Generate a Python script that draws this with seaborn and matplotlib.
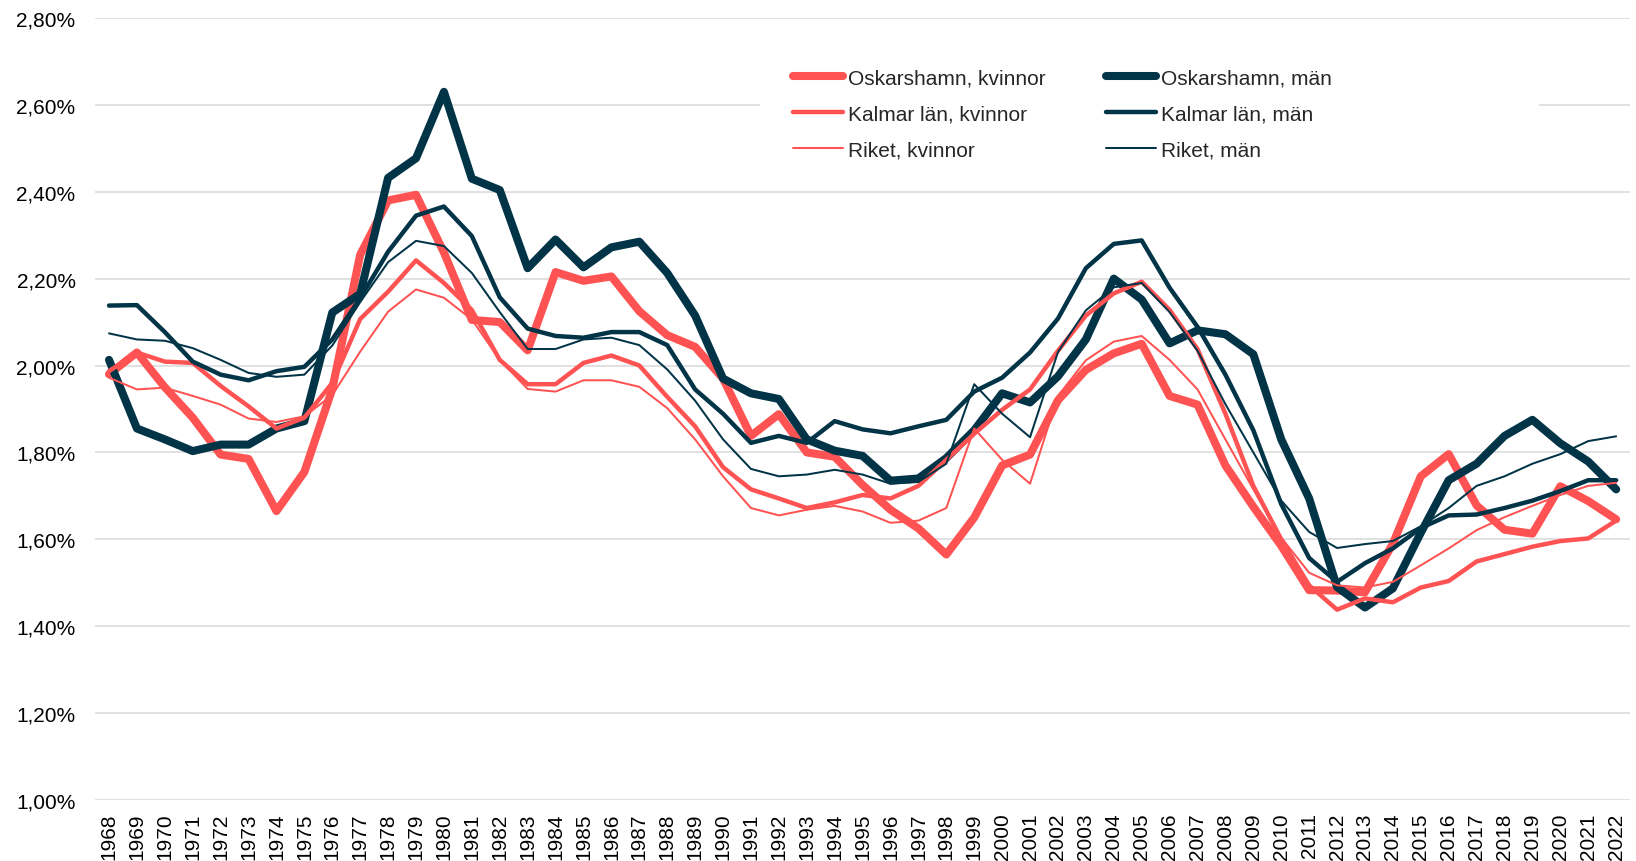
import matplotlib
matplotlib.use('Agg')
import matplotlib.pyplot as plt
from matplotlib.patches import Rectangle
from matplotlib.ticker import FuncFormatter, MultipleLocator
import seaborn as sns

years = list(range(1968, 2023))

osk_kvinnor = [1.980, 2.030, 1.950, 1.880, 1.795, 1.785, 1.665, 1.755, 1.946, 2.255,
               2.380, 2.393, 2.260, 2.105, 2.100, 2.035, 2.215, 2.195, 2.205, 2.125,
               2.070, 2.043, 1.970, 1.838, 1.888, 1.800, 1.790, 1.725, 1.668, 1.625,
               1.565, 1.650, 1.770, 1.795, 1.920, 1.990, 2.028, 2.050, 1.930, 1.910,
               1.770, 1.675, 1.585, 1.483, 1.482, 1.478, 1.590, 1.745, 1.796, 1.678,
               1.622, 1.613, 1.722, 1.688, 1.646]

osk_man = [2.013, 1.855, 1.830, 1.803, 1.818, 1.818, 1.855, 1.872, 2.122, 2.165,
           2.432, 2.477, 2.630, 2.430, 2.404, 2.224, 2.290, 2.226, 2.272, 2.285,
           2.213, 2.115, 1.970, 1.936, 1.923, 1.830, 1.804, 1.792, 1.735, 1.740,
           1.787, 1.851, 1.936, 1.915, 1.975, 2.060, 2.200, 2.152, 2.051, 2.081,
           2.072, 2.026, 1.830, 1.694, 1.490, 1.443, 1.487, 1.615, 1.736, 1.774,
           1.838, 1.875, 1.821, 1.779, 1.715]

kalmar_kvinnor = [1.987, 2.030, 2.009, 2.006, 1.953, 1.906, 1.855, 1.880, 1.960, 2.107,
                  2.170, 2.242, 2.190, 2.128, 2.013, 1.957, 1.957, 2.006, 2.023, 2.000,
                  1.928, 1.860, 1.766, 1.715, 1.694, 1.672, 1.685, 1.702, 1.694, 1.723,
                  1.783, 1.843, 1.898, 1.945, 2.034, 2.115, 2.166, 2.193, 2.128, 2.038,
                  1.889, 1.723, 1.600, 1.494, 1.438, 1.464, 1.455, 1.489, 1.504, 1.549,
                  1.566, 1.583, 1.596, 1.602, 1.643]

kalmar_man = [2.138, 2.139, 2.077, 2.009, 1.979, 1.966, 1.987, 1.997, 2.060, 2.155,
              2.262, 2.345, 2.366, 2.298, 2.157, 2.085, 2.068, 2.064, 2.077, 2.077,
              2.047, 1.945, 1.889, 1.822, 1.838, 1.822, 1.872, 1.853, 1.844, 1.860,
              1.875, 1.940, 1.972, 2.030, 2.108, 2.224, 2.280, 2.288, 2.179, 2.089,
              1.979, 1.851, 1.681, 1.557, 1.502, 1.545, 1.579, 1.626, 1.655, 1.657,
              1.672, 1.689, 1.711, 1.736, 1.736]

riket_kvinnor = [1.972, 1.945, 1.949, 1.930, 1.910, 1.878, 1.870, 1.883, 1.932, 2.032,
                 2.124, 2.175, 2.156, 2.106, 2.013, 1.946, 1.940, 1.966, 1.966, 1.951,
                 1.902, 1.830, 1.745, 1.672, 1.655, 1.668, 1.677, 1.664, 1.638, 1.643,
                 1.672, 1.855, 1.783, 1.728, 1.930, 2.012, 2.055, 2.068, 2.013, 1.945,
                 1.830, 1.715, 1.604, 1.523, 1.494, 1.489, 1.502, 1.540, 1.579, 1.621,
                 1.651, 1.677, 1.702, 1.723, 1.730]

riket_man = [2.074, 2.060, 2.057, 2.040, 2.013, 1.983, 1.974, 1.979, 2.046, 2.146,
             2.238, 2.287, 2.275, 2.213, 2.123, 2.038, 2.038, 2.060, 2.064, 2.047,
             1.991, 1.919, 1.830, 1.762, 1.745, 1.749, 1.760, 1.749, 1.728, 1.732,
             1.774, 1.957, 1.889, 1.835, 2.031, 2.127, 2.180, 2.190, 2.123, 2.034,
             1.911, 1.800, 1.689, 1.617, 1.580, 1.589, 1.596, 1.630, 1.672, 1.723,
             1.745, 1.774, 1.796, 1.826, 1.837]

RED = '#FF5353'
NAVY = '#023448'

# (etikett, värden, färg, linjebredd) - tjockast ritas först
series = [
    ('Oskarshamn, kvinnor', osk_kvinnor, RED, 5.8),
    ('Oskarshamn, män', osk_man, NAVY, 5.8),
    ('Kalmar län, kvinnor', kalmar_kvinnor, RED, 3.2),
    ('Kalmar län, män', kalmar_man, NAVY, 3.2),
    ('Riket, kvinnor', riket_kvinnor, RED, 1.45),
    ('Riket, män', riket_man, NAVY, 1.45),
]
legend_order = ['Oskarshamn, kvinnor', 'Kalmar län, kvinnor', 'Riket, kvinnor',
                'Oskarshamn, män', 'Kalmar län, män', 'Riket, män']

sns.set_style('white')
plt.rcParams['font.family'] = ['Liberation Sans', 'DejaVu Sans']

fig = plt.figure(figsize=(16.36, 8.62), dpi=100)
ax = fig.add_axes([0.0581, 0.0708, 0.9383, 0.9072])

for label, vals, color, lw in series:
    sns.lineplot(x=years, y=vals, color=color, linewidth=lw, label=label, ax=ax,
                 solid_capstyle='round', solid_joinstyle='round')

ax.set_xlim(1967.5, 2022.5)
ax.set_ylim(1.0, 2.8)
ax.yaxis.set_major_locator(MultipleLocator(0.2))
ax.yaxis.set_major_formatter(FuncFormatter(lambda v, p: f'{v:.2f}%'.replace('.', ',')))
ax.set_xticks(years)
ax.set_xticklabels([str(y) for y in years], rotation=90)
ax.tick_params(axis='both', length=0, labelsize=15, colors='black')
ax.tick_params(axis='y', pad=14)
ax.tick_params(axis='x', pad=9)
ax.yaxis.grid(True, color='#D9D9D9', linewidth=1.1)
ax.set_axisbelow(True)
for s in ax.spines.values():
    s.set_visible(False)
ax.set_xlabel('')
ax.set_ylabel('')

# vit bakgrund bakom legenden som döljer stödlinjen
ax.add_patch(Rectangle((0.4645, 0.803), 0.476, 0.134, transform=fig.transFigure,
                       facecolor='white', edgecolor='none', zorder=1))

handles, labels = ax.get_legend_handles_labels()
lookup = dict(zip(labels, handles))
ax.legend([lookup[l] for l in legend_order], legend_order, ncol=2,
          loc='upper left', bbox_to_anchor=(0.473, 0.941), bbox_transform=fig.transFigure,
          frameon=False, fontsize=15, handlelength=2.4, handletextpad=0.25,
          columnspacing=2.9, labelspacing=0.82)

fig.savefig('out.png', dpi=100)
